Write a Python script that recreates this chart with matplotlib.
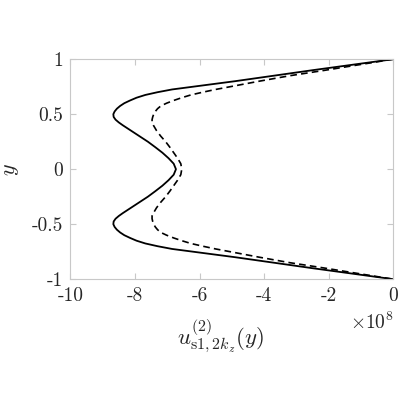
import matplotlib
matplotlib.use("Agg")
import matplotlib.pyplot as plt

plt.rcParams['font.family'] = 'cmr10'
plt.rcParams['mathtext.fontset'] = 'cm'
plt.rcParams['axes.unicode_minus'] = False
plt.rcParams['axes.formatter.use_mathtext'] = False

# y positions (wall-normal coordinate)
y_vals = [1.0, 0.95, 0.9, 0.85, 0.8, 0.775, 0.75, 0.725, 0.7, 0.675, 0.65, 0.625,
          0.6, 0.575, 0.55, 0.525, 0.5, 0.475, 0.45, 0.425, 0.4, 0.35, 0.3, 0.25,
          0.2, 0.15, 0.1, 0.05, 0.0,
          -0.05, -0.1, -0.15, -0.2, -0.25, -0.3, -0.35, -0.4, -0.425, -0.45,
          -0.475, -0.5, -0.525, -0.55, -0.575, -0.6, -0.625, -0.65, -0.675, -0.7,
          -0.725, -0.75, -0.775, -0.8, -0.85, -0.9, -0.95, -1.0]

# solid curve, values in units of 1e8
u_solid = [0.0, -1.25, -2.5, -3.7, -4.9, -5.55, -6.2, -6.85, -7.3, -7.68, -7.95,
           -8.15, -8.33, -8.46, -8.56, -8.63, -8.67, -8.66, -8.6, -8.5, -8.38,
           -8.12, -7.86, -7.6, -7.37, -7.15, -6.96, -6.8, -6.73,
           -6.8, -6.96, -7.15, -7.37, -7.6, -7.86, -8.12, -8.38, -8.5, -8.6,
           -8.66, -8.67, -8.63, -8.56, -8.46, -8.33, -8.15, -7.95, -7.68, -7.3,
           -6.85, -6.2, -5.55, -4.9, -3.7, -2.5, -1.25, 0.0]

# dashed curve, values in units of 1e8
u_dashed = [0.0, -1.05, -2.1, -3.2, -4.15, -4.6, -5.05, -5.5, -5.9, -6.27, -6.55,
            -6.8, -7.02, -7.2, -7.3, -7.37, -7.42, -7.45, -7.47, -7.47, -7.43,
            -7.33, -7.2, -7.05, -6.92, -6.8, -6.68, -6.58, -6.55,
            -6.58, -6.68, -6.8, -6.92, -7.05, -7.2, -7.33, -7.43, -7.47, -7.47,
            -7.45, -7.42, -7.37, -7.3, -7.2, -7.02, -6.8, -6.55, -6.27, -5.9,
            -5.5, -5.05, -4.6, -4.15, -3.2, -2.1, -1.05, 0.0]

x_ticks = [-10, -8, -6, -4, -2, 0]
x_tick_labels = ['-10', '-8', '-6', '-4', '-2', '0']
y_ticks = [-1, -0.5, 0, 0.5, 1]
y_tick_labels = ['-1', '-0.5', '0', '0.5', '1']

fig = plt.figure(figsize=(4, 4), dpi=100)
ax = fig.add_axes([0.176, 0.302, 0.807, 0.550])

ax.plot(u_solid, y_vals, color='black', lw=1.3, solid_joinstyle='round')
ax.plot(u_dashed, y_vals, color='black', lw=1.2, linestyle=(0, (4, 2.5)))

ax.set_xlim(-10, 0)
ax.set_ylim(-1, 1)
ax.set_xticks(x_ticks)
ax.set_xticklabels(x_tick_labels)
ax.set_yticks(y_ticks)
ax.set_yticklabels(y_tick_labels)

for s in ax.spines.values():
    s.set_color('#c8c8c8')
    s.set_linewidth(0.8)
ax.tick_params(direction='in', length=4, width=0.8, color='#c8c8c8',
               labelcolor='#262626', labelsize=14, top=True, right=True)
ax.tick_params(axis='x', pad=6)
ax.tick_params(axis='y', pad=5)

ax.set_xlabel(r'$u^{(2)}_{\mathrm{s1},2k_z}(y)$', fontsize=16.5, color='#262626')
ax.xaxis.set_label_coords(0.465, -0.175)
ax.set_ylabel(r'$y$', fontsize=16, color='#262626')
ax.yaxis.set_label_coords(-0.152, 0.5)
fig.text(0.983, 0.195, r'$\times 10^{8}$', ha='right', va='center', fontsize=14, color='#262626')

fig.savefig('out.png', dpi=100)
